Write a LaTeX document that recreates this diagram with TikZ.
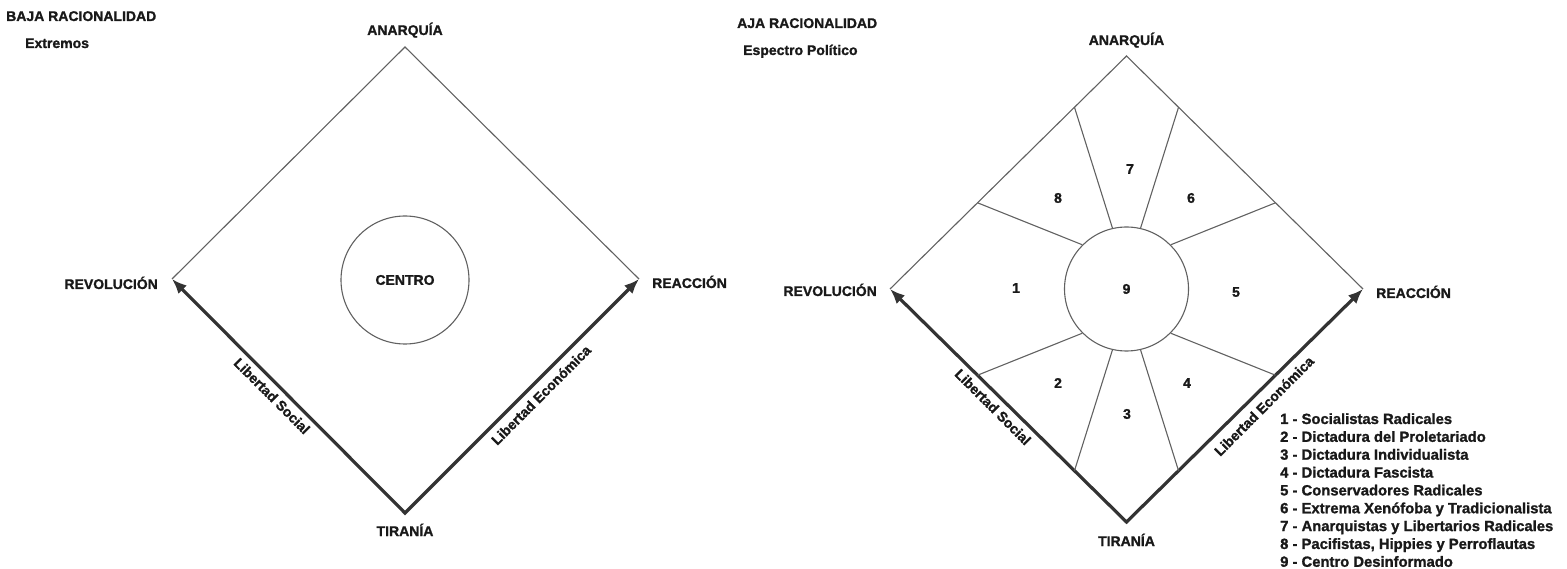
\documentclass[tikz,border=0pt]{standalone}
\usepackage{fontspec}
\setmainfont{Liberation Sans}
\newfontfamily\heavy{Liberation Sans Bold}[FakeBold=1.3]
\usetikzlibrary{arrows.meta,calc}
\begin{document}
\begin{tikzpicture}[x=1pt,y=-1pt,
  lbl/.style={font=\heavy\fontsize{14}{16}\selectfont, inner sep=0pt, text=black!90},
  leglbl/.style={font=\heavy\fontsize{14.8}{16}\selectfont, inner sep=0pt, text=black!90},
  edgeline/.style={draw=black!62, line width=1.1pt},
  axisline/.style={draw=black!80, line width=3.2pt, line join=miter, {Latex[length=15pt,width=12pt]}-{Latex[length=15pt,width=12pt]}},
  ring/.style={circle, draw=black!62, line width=1.1pt, inner sep=0pt, lbl},
]
\useasboundingbox (0,0) rectangle (1567,569);

% ---------------- left diagram ----------------
\coordinate (T1) at (405,47);
\coordinate (L1) at (172,279);
\coordinate (R1) at (639,279);
\coordinate (B1) at (405,513);
\draw[edgeline] (L1) -- (T1) -- (R1);
\draw[axisline] (L1) -- (B1) -- (R1);
\node[ring, minimum size=128pt] (c1) at (405,280) {CENTRO};

\node[lbl, anchor=base west] (t1) at (6,21) {BAJA RACIONALIDAD};
\node[lbl, anchor=base west] (s1) at (25,48) {Extremos};
\node[lbl, anchor=base] (an1) at (405,35) {ANARQUÍA};
\node[lbl, anchor=base east] (rv1) at (158,289) {REVOLUCIÓN};
\node[lbl, anchor=base west] (re1) at (652,288) {REACCIÓN};
\node[lbl, anchor=base] (ti1) at (405,536) {TIRANÍA};
\node[lbl, rotate=-45] (ls1) at (272,396) {Libertad Social};
\node[lbl, rotate=45] (le1) at (541,395) {Libertad Económica};

% ---------------- right diagram ----------------
\coordinate (T2) at (1126.5,56);
\coordinate (L2) at (890,289);
\coordinate (R2) at (1363,289);
\coordinate (B2) at (1126.5,522);
\draw[edgeline] (L2) -- (T2) -- (R2);
\draw[axisline] (L2) -- (B2) -- (R2);
\node[ring, minimum size=124pt] (c2) at (1126.5,289) {9};

\draw[edgeline] (c2.135) -- ($(L2)!0.37!(T2)$);
\draw[edgeline] (c2.103) -- ($(L2)!0.78!(T2)$);
\draw[edgeline] (c2.77)  -- ($(R2)!0.78!(T2)$);
\draw[edgeline] (c2.45)  -- ($(R2)!0.37!(T2)$);
\draw[edgeline] (c2.225) -- ($(L2)!0.37!(B2)$);
\draw[edgeline] (c2.257) -- ($(L2)!0.78!(B2)$);
\draw[edgeline] (c2.283) -- ($(R2)!0.78!(B2)$);
\draw[edgeline] (c2.315) -- ($(R2)!0.37!(B2)$);

\node[lbl] (n1) at (1016,288) {1};
\node[lbl] (n2) at (1058,383) {2};
\node[lbl] (n3) at (1127,414) {3};
\node[lbl] (n4) at (1187,383) {4};
\node[lbl] (n5) at (1236,292) {5};
\node[lbl] (n6) at (1191,198) {6};
\node[lbl] (n7) at (1130,169) {7};
\node[lbl] (n8) at (1058,198) {8};

\node[lbl, anchor=base west] (t2) at (737,28) {AJA RACIONALIDAD};
\node[lbl, anchor=base west] (s2) at (743,55) {Espectro Político};
\node[lbl, anchor=base] (an2) at (1126.5,45) {ANARQUÍA};
\node[lbl, anchor=base east] (rv2) at (877,296) {REVOLUCIÓN};
\node[lbl, anchor=base west] (re2) at (1376,298) {REACCIÓN};
\node[lbl, anchor=base] (ti2) at (1126.5,546) {TIRANÍA};
\node[lbl, rotate=-45] (ls2) at (993,407) {Libertad Social};
\node[lbl, rotate=45] (le2) at (1264,406) {Libertad Económica};

% legend
\foreach \i/\t in {1/{1 - Socialistas Radicales},
                   2/{2 - Dictadura del Proletariado},
                   3/{3 - Dictadura Individualista},
                   4/{4 - Dictadura Fascista},
                   5/{5 - Conservadores Radicales},
                   6/{6 - Extrema Xenófoba y Tradicionalista},
                   7/{7 - Anarquistas y Libertarios Radicales},
                   8/{8 - Pacifistas, Hippies y Perroflautas},
                   9/{9 - Centro Desinformado}}
  \node[leglbl, anchor=base west] (leg\i) at (1280,{424+17.85*(\i-1)}) {\t};
\end{tikzpicture}
\end{document}
